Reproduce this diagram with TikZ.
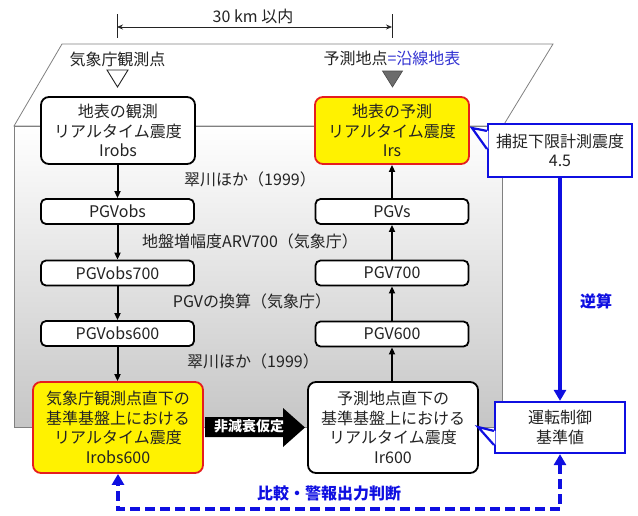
\documentclass[tikz,border=0pt]{standalone}
\usepackage{fontspec}
\setmainfont{Noto Sans CJK JP}
\usetikzlibrary{arrows.meta,calc}
\definecolor{bluec}{RGB}{15,15,225}
\definecolor{bluet}{RGB}{50,50,210}
\definecolor{redc}{RGB}{230,30,30}
\definecolor{textc}{RGB}{35,35,35}
\begin{document}
\begin{tikzpicture}[x=1pt,y=-1pt,font=\fontsize{16}{19.5}\selectfont,
  box/.style={draw=black, line width=1.8pt, rounded corners=8pt, fill=white, align=center, text=textc, inner sep=0pt},
  sbox/.style={box, rounded corners=5pt, minimum width=153pt, minimum height=25pt},
  bigbox/.style={box, minimum width=154pt, minimum height=67pt},
  basebox/.style={box, minimum width=170pt, minimum height=91pt},
  ybox/.style={fill=yellow, draw=redc},
  bluebox/.style={draw=bluec, line width=2.2pt, fill=white, align=center, text=textc, inner sep=0pt},
  lab/.style={text=textc, inner sep=0pt},
  arr/.style={-{Triangle[length=7pt,width=6pt]}, line width=2pt},
  barr/.style={draw=bluec, line width=3.5pt, -{Triangle[length=11pt,width=12pt]}},
  dbarr/.style={draw=bluec, line width=3.5pt, dash pattern=on 10pt off 5pt, {Triangle[length=11pt,width=12pt]}-{Triangle[length=11pt,width=12pt]}},
  tail/.style={draw=bluec, line width=2.2pt, line join=miter}
]
\useasboundingbox (0,0) rectangle (638,515);

% dimension
\coordinate (dl) at (117,27);
\coordinate (dr) at (392,27);
\draw[line width=0.8pt, textc] (117,14) -- (117,38);
\draw[line width=0.8pt, textc] (392,14) -- (392,38);
\draw[line width=0.8pt, textc, {Stealth[length=6pt,width=5pt]}-{Stealth[length=6pt,width=5pt]}] (dl) -- (dr);
\node[lab] (dist) at (253,16) {30 km 以内};

% plane and ground block
\draw[fill=white, draw=gray, line width=0.8pt] (62,44) -- (553,44) -- (503,126) -- (14,126) -- cycle;
\draw[top color=white, bottom color=gray!45, draw=gray, line width=0.8pt] (14,126) rectangle (502,427);

% site labels and markers
\node[lab] (obspt) at (117.5,59) {気象庁観測点};
\node[lab] (predpt) at (392,58) {予測地点\textcolor{bluet}{=沿線地表}};
\draw[textc, line width=0.9pt, fill=white] (107,70) -- (128,70) -- (117.5,87) -- cycle;
\draw[gray!60!black, fill=gray!85!black, line width=0.6pt] (382.5,71) -- (402.5,71) -- (392.5,87) -- cycle;

% left column
\node[bigbox] (irobs) at (118,130.5) {地表の観測\\リアルタイム震度\\Irobs};
\node[sbox] (pgvobs) at (117.5,211.5) {PGVobs};
\node[sbox] (pgvobs7) at (117.5,273) {PGVobs700};
\node[sbox] (pgvobs6) at (117.5,333.5) {PGVobs600};
\node[basebox, ybox] (irobs6) at (118,427.5) {気象庁観測点直下の\\基準基盤上における\\リアルタイム震度\\Irobs600};

% right column
\node[bigbox, ybox] (irs) at (392,130.5) {地表の予測\\リアルタイム震度\\Irs};
\node[sbox] (pgvs) at (392,211.5) {PGVs};
\node[sbox] (pgv7) at (392,273) {PGV700};
\node[sbox] (pgv6) at (392,334) {PGV600};
\node[basebox] (ir6) at (393,427.5) {予測地点直下の\\基準基盤上における\\リアルタイム震度\\Ir600};

% method labels
\node[lab] (m1) at (250,179) {翠川ほか（1999）};
\node[lab] (m2) at (250,241) {地盤増幅度ARV700（気象庁）};
\node[lab] (m3) at (252,301) {PGVの換算（気象庁）};
\node[lab] (m4) at (253,361) {翠川ほか（1999）};

% black arrows
\draw[arr] (irobs.south -| pgvobs.north) -- (pgvobs.north);
\draw[arr] (pgvobs.south) -- (pgvobs7.north);
\draw[arr] (pgvobs7.south) -- (pgvobs6.north);
\draw[arr] (pgvobs6.south) -- (pgvobs6.south |- irobs6.north);
\draw[arr] (ir6.north -| pgv6.south) -- (pgv6.south);
\draw[arr] (pgv6.north) -- (pgv7.south);
\draw[arr] (pgv7.north) -- (pgvs.south);
\draw[arr] (pgvs.north) -- (irs.south);

% big transfer arrow
\fill[black] (205,417) -- (283,417) -- (283,408) -- (305,427.5) -- (283,447) -- (283,437) -- (205,437) -- cycle;
\node[text=white, inner sep=0pt, font=\fontsize{14}{16}\selectfont\bfseries] (nd) at (249,426) {非減衰仮定};

% blue boxes with callout tails
\node[bluebox, minimum width=144pt, minimum height=53pt] (capt) at (560,150.5) {捕捉下限計測震度\\4.5};
\coordinate (capttip) at (472,128);
\fill[white] ($(capt.north west)+(1.5,8)$) -- (capttip) -- ($(capt.north west)+(1.5,26)$) -- cycle;
\draw[tail] ($(capt.north west)+(0,8)$) -- (capttip) -- ($(capt.north west)+(0,26)$);

\node[bluebox, minimum width=130pt, minimum height=51pt] (ctrl) at (560,427.5) {運転制御\\基準値};
\coordinate (ctrltip) at (478,427);
\fill[white] ($(ctrl.north west)+(1.5,30)$) -- (ctrltip) -- ($(ctrl.north west)+(1.5,44)$) -- cycle;
\draw[tail] ($(ctrl.north west)+(0,30)$) -- (ctrltip) -- ($(ctrl.north west)+(0,44)$);

% blue arrows
\draw[barr] (capt.south) -- (ctrl.north);
\node[text=bluec, inner sep=0pt, font=\fontsize{16}{19}\selectfont\bfseries] (inv) at (596,301) {逆算};
\coordinate (dr1) at (560,509);
\coordinate (dl1) at (118,509);
\draw[dbarr] (ctrl.south) -- (dr1) -- (dl1) -- (irobs6.south);
\node[text=bluec, inner sep=0pt, font=\fontsize{16}{19}\selectfont\bfseries] (cmp) at (329,493) {比較・警報出力判断};
\end{tikzpicture}
\end{document}
